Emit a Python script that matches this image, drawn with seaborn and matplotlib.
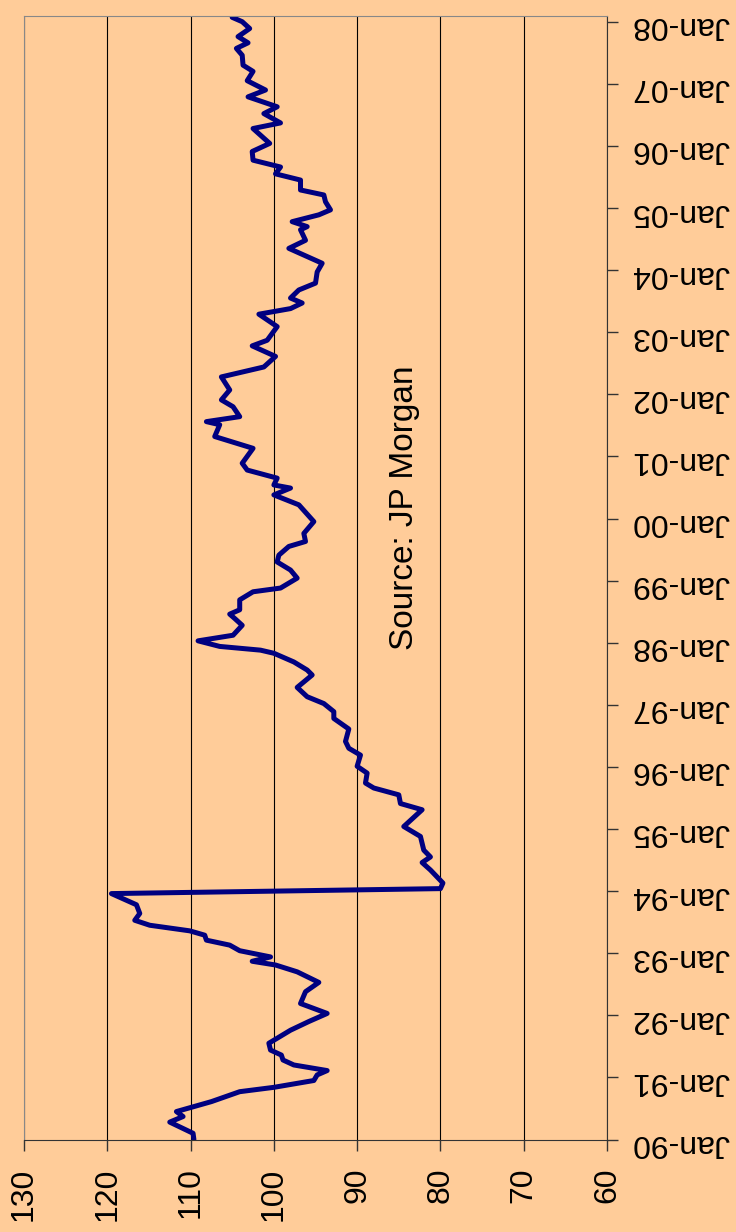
import matplotlib
matplotlib.use("Agg")
import matplotlib.pyplot as plt
import seaborn as sns

# index readings (time as decimal years, value)
years = [1990.00, 1990.10, 1990.28, 1990.37, 1990.45, 1990.61, 1990.77, 1990.84, 1990.95,
         1991.04, 1991.11, 1991.20, 1991.28, 1991.36, 1991.44, 1991.55, 1991.76, 1991.90,
         1992.03, 1992.19, 1992.38, 1992.53, 1992.70, 1992.81, 1992.87, 1992.94,
         1993.04, 1993.13, 1993.21, 1993.29, 1993.36, 1993.45, 1993.53, 1993.64, 1993.78, 1993.96,
         1994.04, 1994.13, 1994.34, 1994.46, 1994.55, 1994.66, 1994.88,
         1995.04, 1995.31, 1995.41, 1995.55, 1995.66, 1995.74, 1995.90,
         1996.01, 1996.19, 1996.30, 1996.41, 1996.61, 1996.78, 1996.89,
         1997.02, 1997.13, 1997.28, 1997.48, 1997.56, 1997.69, 1997.83, 1997.88, 1997.94,
         1998.03, 1998.12, 1998.28, 1998.39, 1998.46, 1998.53, 1998.69, 1998.82, 1998.88,
         1999.04, 1999.17, 1999.30, 1999.41, 1999.55, 1999.63, 1999.76, 1999.95,
         2000.22, 2000.38, 2000.49, 2000.54, 2000.65, 2000.78, 2000.89,
         2001.13, 2001.32, 2001.51, 2001.56, 2001.64, 2001.80, 2001.91,
         2002.07, 2002.28, 2002.44, 2002.61, 2002.78, 2002.87,
         2003.09, 2003.29, 2003.38, 2003.47, 2003.55, 2003.68, 2003.79, 2003.97,
         2004.11, 2004.35, 2004.48, 2004.65, 2004.70, 2004.78, 2004.89, 2004.97,
         2005.10, 2005.21, 2005.29, 2005.45, 2005.55, 2005.66, 2005.77, 2005.91,
         2006.04, 2006.28, 2006.37, 2006.52, 2006.63, 2006.79, 2006.90,
         2007.05, 2007.20, 2007.30, 2007.46, 2007.57, 2007.66, 2007.76, 2007.89,
         2008.00, 2008.07]
values = [109.6, 109.7, 112.5, 110.9, 111.7, 107.5, 104.1, 100.0, 95.2,
          94.8, 93.6, 97.6, 98.9, 99.1, 100.4, 100.6, 98.0, 95.8,
          93.6, 96.8, 96.2, 94.6, 97.2, 99.8, 102.6, 100.4,
          104.1, 105.3, 108.1, 108.3, 110.1, 114.9, 116.7, 116.1, 116.5, 119.5,
          80.0, 79.7, 81.2, 82.2, 81.2, 82.0, 82.4,
          84.4, 82.2, 84.8, 85.0, 88.0, 89.0, 88.8,
          90.0, 89.6, 91.0, 91.4, 91.0, 92.8, 92.8,
          94.0, 96.0, 97.2, 95.4, 96.0, 97.6, 100.0, 101.6, 106.5,
          109.1, 104.9, 103.8, 104.7, 105.3, 104.1, 104.1, 102.5, 99.2,
          97.2, 98.0, 99.6, 99.4, 98.2, 96.2, 96.4, 95.2,
          97.0, 100.0, 98.0, 100.0, 99.6, 103.2, 103.8,
          102.5, 107.1, 106.5, 108.1, 104.1, 104.9, 106.3,
          105.3, 106.3, 101.2, 99.8, 102.6, 100.8,
          99.6, 101.8, 98.0, 96.6, 98.0, 97.0, 95.0, 94.8,
          94.2, 98.2, 96.2, 96.8, 96.0, 97.8, 94.6, 93.2,
          93.8, 94.0, 96.8, 96.8, 99.8, 99.2, 102.5, 102.6,
          100.5, 102.5, 99.2, 101.2, 99.6, 103.1, 101.0,
          103.2, 102.5, 103.7, 103.8, 104.5, 103.1, 104.3, 102.9,
          103.8, 105.0]

tick_years = list(range(1990, 2009))
tick_labels = ["Jan-%02d" % (y % 100) for y in tick_years]
value_ticks = [130, 120, 110, 100, 90, 80, 70, 60]

bg = "#FFCC99"
plt.rcParams["font.family"] = ["Liberation Sans", "DejaVu Sans"]

fig = plt.figure(figsize=(7.36, 12.32), dpi=100, facecolor=bg)
ax = fig.add_axes([24 / 736, 92.5 / 1232, 583 / 736, 1123.5 / 1232])
ax.set_facecolor(bg)

sns.lineplot(x=values, y=years, sort=False, estimator=None, color="#000080",
             linewidth=3.6, solid_joinstyle="round", solid_capstyle="round", ax=ax)

ax.set_xlim(130, 60)
ax.set_ylim(1990, 1990 + 1123.5 / 62.1)
ax.set_xticks(value_ticks)
ax.set_xticklabels([str(v) for v in value_ticks], rotation=90)
ax.set_yticks(tick_years)
ax.set_yticklabels(tick_labels, rotation=180)
ax.yaxis.tick_right()

ax.grid(axis="x", color="black", linewidth=0.8)
ax.set_axisbelow(True)

for side in ["left", "top"]:
    ax.spines[side].set_color("#888888")
for side in ["right", "bottom"]:
    ax.spines[side].set_color("#333333")
ax.tick_params(axis="x", length=8, width=1, color="#333333", pad=12, labelsize=23)
ax.tick_params(axis="y", length=8, width=1, color="#333333", pad=10, labelsize=23)

ax.text(84.3, 2000.17, "Source: JP Morgan", rotation=90, ha="center", va="center",
        fontsize=24)

fig.savefig("out.png", dpi=100, facecolor=bg)
